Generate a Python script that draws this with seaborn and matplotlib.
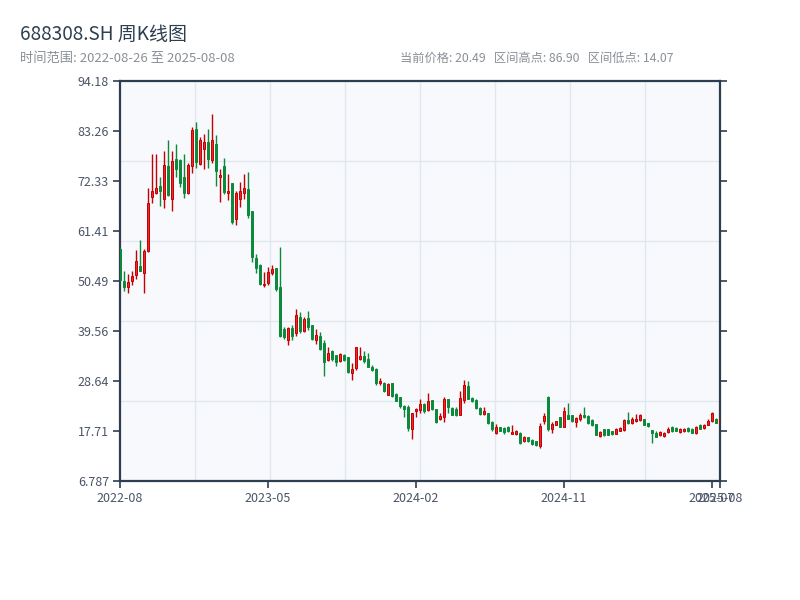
import numpy as np
import pandas as pd
import matplotlib
matplotlib.use('Agg')
import matplotlib.pyplot as plt
import seaborn as sns
from matplotlib.ticker import FixedLocator, FuncFormatter

sns.set_theme(style='white')
plt.rcParams['font.family'] = ['Noto Sans CJK SC', 'DejaVu Sans']
plt.rcParams['axes.unicode_minus'] = False

# 周K数据
open_ = [57.40, 50.41, 49.10, 50.41, 51.72, 53.76, 52.30, 56.97, 68.76, 69.78,
         71.24, 68.33, 75.61, 68.33, 77.21, 76.92, 73.13, 69.78, 75.61, 83.77,
         76.00, 79.40, 80.85, 76.92, 80.42, 73.13, 75.61, 69.64, 71.82, 63.96,
         68.47, 69.64, 70.66, 65.71, 55.51, 54.05, 49.54, 49.97, 52.16, 53.32,
         49.10, 40.07, 37.59, 40.21, 39.05, 42.54, 39.49, 42.40, 40.80, 37.59,
         38.47, 36.86, 33.22, 35.26, 34.24, 33.08, 34.39, 33.81, 30.45, 31.48,
         33.51, 34.10, 33.51, 31.77, 31.33, 28.27, 28.27, 25.65, 28.12, 25.79,
         25.06, 23.17, 23.03, 18.22, 22.01, 22.30, 23.61, 22.30, 24.48, 22.44,
         20.26, 20.69, 24.63, 22.73, 22.59, 21.28, 24.49, 27.54, 24.92, 24.49,
         22.73, 21.42, 21.57, 19.67, 17.20, 18.51, 18.36, 18.51, 17.10, 17.05,
         17.35, 15.45, 16.33, 15.74, 15.45, 14.50, 19.90, 25.21, 18.22, 19.09,
         20.69, 18.66, 21.28, 21.13, 19.67, 20.26, 21.28, 20.99, 20.11, 19.24,
         16.62, 18.07, 18.07, 17.64, 17.05, 17.78, 17.93, 20.11, 19.38, 19.97,
         20.11, 20.26, 19.38, 17.93, 17.35, 16.76, 16.62, 17.49, 18.66, 18.37,
         17.49, 17.64, 18.37, 18.22, 17.20, 19.09, 18.37, 19.09, 19.82, 20.40,
         19.53]
high = [57.60, 52.60, 52.01, 52.60, 57.26, 59.44, 57.55, 70.80, 78.23, 78.23,
        73.13, 78.96, 81.29, 78.96, 80.42, 77.10, 78.23, 76.19, 84.20, 85.22,
        81.87, 82.60, 83.62, 86.90, 82.31, 75.03, 77.36, 73.86, 71.90, 70.08,
        72.12, 73.86, 74.30, 65.80, 56.38, 54.20, 52.45, 53.61, 54.05, 53.40,
        57.84, 40.36, 40.36, 40.80, 44.29, 43.71, 42.54, 43.85, 40.90, 39.92,
        39.34, 37.59, 35.99, 35.41, 34.39, 34.68, 34.53, 33.95, 32.50, 36.14,
        36.14, 35.26, 34.68, 32.06, 31.48, 29.29, 28.42, 28.12, 28.20, 25.94,
        25.21, 23.46, 23.32, 21.60, 22.73, 24.77, 23.75, 25.94, 24.55, 22.50,
        21.57, 25.21, 24.70, 23.03, 22.88, 26.38, 28.85, 28.56, 25.07, 24.63,
        22.88, 22.88, 21.71, 19.82, 19.24, 18.55, 18.66, 18.80, 18.95, 17.93,
        17.49, 16.62, 16.47, 15.89, 15.50, 19.50, 21.57, 25.30, 19.67, 19.97,
        20.75, 23.03, 23.90, 21.20, 20.69, 21.57, 23.03, 21.13, 20.26, 19.30,
        17.78, 18.10, 18.22, 17.70, 18.37, 18.51, 20.40, 21.86, 20.69, 21.43,
        21.43, 20.40, 19.53, 17.95, 17.64, 17.78, 17.49, 18.51, 18.80, 18.51,
        18.37, 18.37, 18.51, 18.37, 18.80, 19.24, 19.24, 20.26, 21.86, 20.55,
        20.84]
low = [50.50, 48.37, 47.79, 49.68, 50.85, 52.60, 47.79, 56.80, 67.45, 69.60,
       66.87, 66.43, 69.00, 65.85, 73.28, 71.10, 68.62, 69.60, 74.15, 75.17,
       75.90, 75.03, 75.17, 76.19, 71.24, 67.74, 69.49, 68.18, 62.94, 62.79,
       66.73, 68.47, 64.25, 54.64, 52.30, 49.54, 49.25, 49.54, 51.87, 48.37,
       38.30, 37.88, 36.57, 37.59, 38.47, 39.05, 39.30, 39.78, 37.59, 36.72,
       35.41, 29.73, 33.08, 33.08, 31.91, 32.79, 33.08, 30.31, 28.85, 31.04,
       33.22, 32.50, 31.62, 30.89, 27.83, 27.83, 26.23, 25.50, 25.21, 24.19,
       22.73, 20.84, 17.64, 16.03, 20.69, 21.57, 21.71, 22.01, 22.40, 19.53,
       20.11, 19.68, 21.57, 21.13, 21.05, 21.20, 23.76, 24.63, 24.05, 22.59,
       21.28, 21.13, 19.24, 17.78, 17.05, 17.64, 17.05, 17.60, 17.05, 16.91,
       14.87, 15.30, 15.30, 14.72, 14.43, 14.07, 19.30, 17.78, 17.35, 18.95,
       18.51, 18.51, 20.26, 19.67, 18.66, 19.97, 20.55, 19.24, 18.80, 16.91,
       16.47, 16.62, 16.76, 16.91, 17.00, 17.75, 17.78, 19.24, 19.24, 19.68,
       19.97, 18.95, 18.66, 15.02, 16.33, 16.70, 16.47, 17.35, 17.49, 17.78,
       17.35, 17.49, 17.49, 17.20, 17.05, 18.22, 18.22, 18.95, 19.68, 19.38,
       19.50]
close = [50.70, 49.25, 50.27, 51.58, 54.78, 52.74, 56.97, 67.45, 70.08, 70.80,
         70.22, 75.76, 69.20, 76.78, 75.03, 71.97, 69.64, 75.76, 83.48, 76.48,
         81.29, 80.85, 77.07, 81.29, 74.59, 73.57, 69.93, 70.08, 63.38, 69.64,
         70.08, 70.80, 64.98, 55.80, 53.32, 49.83, 49.83, 52.45, 53.18, 48.81,
         38.47, 38.18, 40.20, 38.47, 42.98, 39.49, 42.11, 40.36, 37.74, 38.61,
         35.70, 32.79, 34.68, 33.37, 32.79, 34.53, 33.22, 30.60, 31.33, 35.99,
         34.10, 33.08, 31.77, 31.04, 28.27, 28.71, 26.52, 28.00, 25.36, 24.34,
         23.17, 22.59, 18.36, 21.57, 22.59, 23.61, 22.01, 24.34, 22.44, 19.68,
         20.99, 24.63, 23.03, 21.28, 21.13, 24.92, 27.69, 24.77, 24.19, 22.73,
         21.42, 22.15, 19.38, 18.22, 18.66, 17.78, 17.49, 17.64, 17.49, 17.78,
         15.16, 16.33, 15.45, 14.87, 14.58, 18.80, 20.99, 18.22, 19.24, 19.82,
         18.66, 22.15, 20.40, 19.82, 20.55, 21.28, 20.69, 19.53, 18.95, 16.95,
         17.49, 16.76, 16.91, 17.05, 18.22, 18.37, 20.11, 19.38, 20.40, 20.26,
         21.28, 19.09, 18.70, 17.20, 16.47, 17.49, 17.35, 18.22, 17.64, 17.80,
         18.22, 18.22, 17.64, 17.35, 18.66, 18.25, 19.09, 19.97, 21.72, 19.53,
         20.49]
tick_labels = ['2022-08', '2023-05', '2024-02', '2024-11', '2025-07', '2025-08']

df = pd.DataFrame({'open': open_, 'high': high, 'low': low, 'close': close})
df['idx'] = np.arange(len(df))
df['up'] = df['close'] >= df['open']
n = len(df)

up_face, up_edge = '#e8292f', '#c40000'
dn_color = '#0b8a3b'

fig = plt.figure(figsize=(8, 6), dpi=100)
ax = fig.add_axes([0.15, 0.1983, 0.75, 0.6667])
ax.set_facecolor('#f7f9fc')

for is_up, g in df.groupby('up'):
    face = up_face if is_up else dn_color
    edge = up_edge if is_up else dn_color
    ax.vlines(g['idx'], g['low'], g['high'], color=edge, lw=1, zorder=3)
    body = (g['close'] - g['open']).abs().clip(lower=0.08)
    ax.bar(g['idx'], body, bottom=g[['open', 'close']].min(axis=1), width=0.6,
           color=face, edgecolor=edge, linewidth=0.7, zorder=4)

# 坐标轴范围
pad = (df['high'].max() - df['low'].min()) * 0.1
ymin, ymax = df['low'].min() - pad, df['high'].max() + pad
ax.set_ylim(ymin, ymax)
ax.set_xlim(0, n - 1)

ax.set_yticks(np.linspace(ymin, ymax, 9))
ax.yaxis.set_major_formatter(FuncFormatter(lambda v, p: '%.4g' % v))
step = n // 4
xt = list(range(0, n, step)) + [n - 1]
ax.set_xticks(xt)
ax.set_xticklabels(tick_labels)

ax.yaxis.set_minor_locator(FixedLocator(np.linspace(ymin, ymax, 6)[1:-1]))
ax.xaxis.set_minor_locator(FixedLocator(np.linspace(0, n - 1, 9)[1:-1]))
ax.grid(which='minor', color='#e2e6ed', lw=1, zorder=0)
ax.grid(which='major', visible=False)
ax.set_axisbelow(True)

for s in ax.spines.values():
    s.set_color('#2c3e50')
    s.set_linewidth(1.6)
ax.tick_params(which='major', direction='out', length=5, width=1.2, color='#2c3e50',
               labelsize=9, labelcolor='#4a5568', left=True, right=True, bottom=True, pad=3)
ax.tick_params(which='minor', length=0)

fig.text(0.025, 0.942, '688308.SH 周K线图', fontsize=13.7, color='#2c3e50', va='center')
fig.text(0.025, 0.902, '时间范围: 2022-08-26 至 2025-08-08', fontsize=9.5, color='#8a8f98', va='center')
fig.text(0.5, 0.902, '当前价格: 20.49   区间高点: 86.90   区间低点: 14.07', fontsize=8.8,
         color='#8a8f98', va='center')

fig.savefig('out.png', dpi=100)
